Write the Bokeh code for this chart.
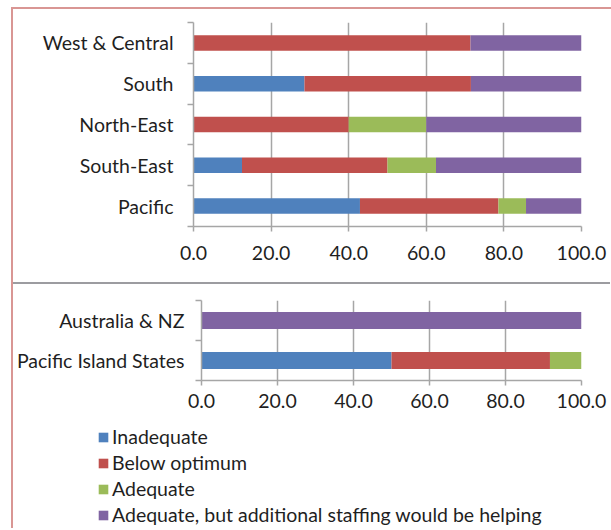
from bokeh.plotting import figure
from bokeh.models import (Range1d, FixedTicker, NumeralTickFormatter, Legend, LegendItem,
                          Div, ColumnDataSource)
from bokeh.layouts import column, row
from bokeh.embed import file_html
from bokeh.resources import INLINE

# ---------------- data ----------------
series = ["Inadequate", "Below optimum", "Adequate",
          "Adequate, but additional staffing would be helping"]
colors = ["#4F81BD", "#C0504D", "#9BBB59", "#8064A2"]

# top panel (listed bottom to top)
regions = ["Pacific", "South-East", "North-East", "South", "West & Central"]
reg_inadequate = [42.9, 12.5, 0.0, 28.6, 0.0]
reg_below = [35.7, 37.5, 40.0, 42.9, 71.4]
reg_adequate = [7.1, 12.5, 20.0, 0.0, 0.0]
reg_helping = [14.3, 37.5, 40.0, 28.6, 28.6]

# bottom panel (listed bottom to top)
groups = ["Pacific Island States", "Australia & NZ"]
grp_inadequate = [50.0, 0.0]
grp_below = [41.7, 0.0]
grp_adequate = [8.3, 0.0]
grp_helping = [0.0, 100.0]

x_ticks = [0, 20, 40, 60, 80, 100]

FONT = "Lato"
FSIZE = "19.5px"
TXT = "#1F1F1F"
GRID = "#A6A6A6"
PINK = "#D99694"
W = 597
KEYS = ["s0", "s1", "s2", "s3"]


def make_source(cats, vals):
    data = {"y": list(range(len(cats)))}
    for k, v in zip(KEYS, vals):
        data[k] = v
    return ColumnDataSource(data)


def make_chart(cats, src, height, bar_h, mb_left, mb_top, mb_bottom, x_standoff, y_standoff):
    n = len(cats)
    p = figure(width=W, height=height, output_backend="svg", toolbar_location=None,
               x_range=Range1d(0, 100), y_range=Range1d(-0.5, n - 0.5),
               min_border_left=mb_left, min_border_right=29,
               min_border_top=mb_top, min_border_bottom=mb_bottom,
               outline_line_color=None, border_fill_color="white",
               background_fill_color="white")
    p.hbar_stack(KEYS, y="y", height=bar_h, fill_color=colors, line_color=None, source=src)

    xa = p.xaxis[0]
    xa.ticker = FixedTicker(ticks=x_ticks, minor_ticks=[])
    xa.formatter = NumeralTickFormatter(format="0.0")
    xa.major_tick_out = 5
    xa.major_tick_in = 0
    xa.minor_tick_out = 0
    xa.minor_tick_in = 0
    xa.axis_line_color = GRID
    xa.axis_line_width = 1.5
    xa.major_tick_line_color = GRID
    xa.major_tick_line_width = 1.5
    xa.major_label_text_font = FONT
    xa.major_label_text_font_size = FSIZE
    xa.major_label_text_color = TXT
    xa.major_label_standoff = x_standoff

    p.xgrid.ticker = FixedTicker(ticks=x_ticks, minor_ticks=[])
    p.xgrid.grid_line_color = GRID
    p.xgrid.grid_line_width = 1.5
    p.ygrid.grid_line_color = None

    ya = p.yaxis[0]
    ya.ticker = FixedTicker(ticks=list(range(n)), minor_ticks=[i - 0.5 for i in range(n + 1)])
    ya.major_label_overrides = {i: c for i, c in enumerate(cats)}
    ya.major_tick_line_color = None
    ya.major_tick_out = 0
    ya.major_tick_in = 0
    ya.minor_tick_line_color = GRID
    ya.minor_tick_line_width = 1.5
    ya.minor_tick_out = 6
    ya.minor_tick_in = 0
    ya.axis_line_color = GRID
    ya.axis_line_width = 1.5
    ya.major_label_text_font = FONT
    ya.major_label_text_font_size = FSIZE
    ya.major_label_text_color = TXT
    ya.major_label_standoff = y_standoff
    return p


top_src = make_source(regions, [reg_inadequate, reg_below, reg_adequate, reg_helping])
bot_src = make_source(groups, [grp_inadequate, grp_below, grp_adequate, grp_helping])

top = make_chart(regions, top_src, height=273, bar_h=0.38, mb_left=180, mb_top=13,
                 mb_bottom=56, x_standoff=14, y_standoff=14)
bottom = make_chart(groups, bot_src, height=134, bar_h=0.42, mb_left=188, mb_top=16,
                    mb_bottom=38, x_standoff=8, y_standoff=11)

# legend panel: the legend's renderers use the bottom data, kept outside the visible range
leg = figure(width=W, height=110, output_backend="svg", toolbar_location=None,
             x_axis_type=None, y_axis_type=None, min_border=0,
             outline_line_color=None, x_range=Range1d(0, 100), y_range=Range1d(10, 11),
             border_fill_color="white", background_fill_color="white")
leg_rends = leg.hbar_stack(KEYS, y="y", height=0, fill_color=colors, line_color=None,
                           source=bot_src)
items = [LegendItem(label=name, renderers=[r]) for name, r in zip(series, leg_rends)]
legend = Legend(items=items, location=(84, 2), orientation="vertical",
                glyph_width=12, glyph_height=12, label_standoff=3,
                label_text_font=FONT, label_text_font_size=FSIZE, label_text_color=TXT,
                label_height=23, spacing=3, padding=0, margin=0,
                border_line_color=None, background_fill_alpha=0)
leg.add_layout(legend)

top_line = Div(text="", width=W + 3, height=2, margin=0, styles={"background-color": PINK})
left_line = Div(text="", width=2, height=273 + 2 + 134 + 110, margin=0,
                styles={"background-color": PINK})
gray_line = Div(text="", width=W, height=2, margin=0, styles={"background-color": "#9C9CA0"})

charts = column(row(top), gray_line, row(bottom), row(leg), spacing=0)
page = column(top_line, row(left_line, charts, spacing=0), spacing=0, margin=(7, 0, 0, 11))

open("out.html", "w").write(file_html(page, INLINE))
